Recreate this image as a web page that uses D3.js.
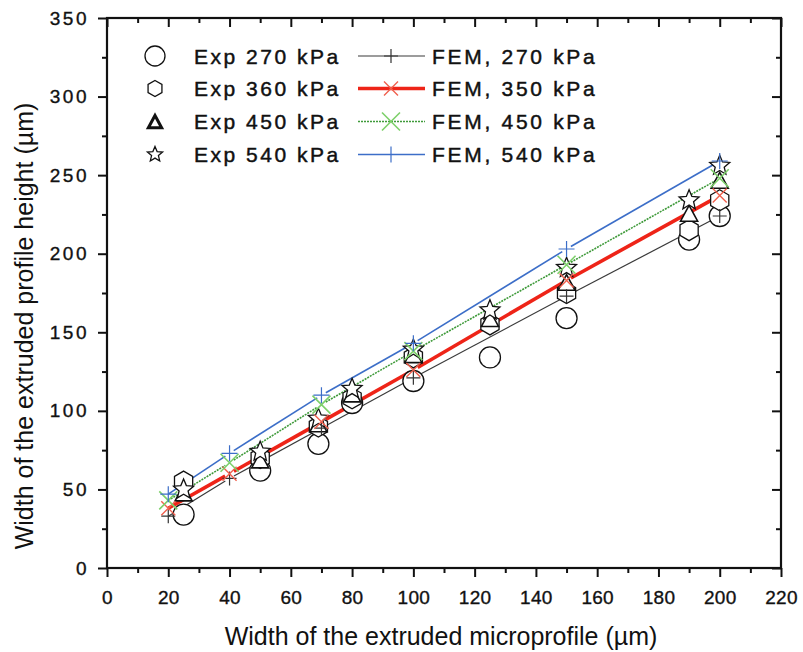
<!DOCTYPE html>
<html>
<head>
<meta charset="utf-8">
<script src="https://cdn.jsdelivr.net/npm/d3@7/dist/d3.min.js"></script>
<style>
  body { margin: 0; background: #fff; }
  svg { display: block; }
  text { font-family: "Liberation Sans", Arial, sans-serif; fill: #111; }
</style>
</head>
<body>
<svg id="chart" width="803" height="652"></svg>
<script>
// Measured widths (µm) and extruded profile heights (µm)
const expX   = [25, 50, 69, 80, 100, 125, 150, 190, 200];
const exp270 = [34, 62, 79, 105, 119, 134, 159, 209, 224];
const exp360 = [55, 70, 90, 108, 134, 155, 175, 215, 234];
const exp450 = [47, 68, 91, 110, 135, 158, 181, 225, 246];
const exp540 = [50, 74, 95, 114, 139, 164, 191, 234, 256];

// Simulated (FEM) results
const femX   = [20, 40, 70, 100, 150, 200];
const fem270 = [33, 57, 89, 121, 173, 224];
const fem350 = [38, 60, 93, 126, 183, 237];
const fem450 = [43, 67, 104, 138, 193, 248];
const fem540 = [47, 73, 110, 143, 203, 259];

const expLabels = ["Exp 270 kPa", "Exp 360 kPa", "Exp 450 kPa", "Exp 540 kPa"];
const femLabels = ["FEM, 270 kPa", "FEM, 350 kPa", "FEM, 450 kPa", "FEM, 540 kPa"];

const xMajor = d3.range(0, 221, 20);
const xMinor = d3.range(10, 220, 20);
const yMajor = d3.range(0, 351, 50);
const yMinor = d3.range(25, 350, 50);

const xTitle = "Width of the extruded microprofile (µm)";
const yTitle = "Width of the extruded profile height (µm)";

const svg = d3.select("#chart");
const L = 107, R = 781, T = 18, B = 568;
const x = d3.scaleLinear().domain([0, 220]).range([L, R]);
const y = d3.scaleLinear().domain([0, 350]).range([B, T]);

// ---- symbol shapes ----
function hexPath(r) {
  const pts = d3.range(6).map(i => {
    const a = -Math.PI / 2 + i * Math.PI / 3;
    return [r * Math.cos(a), r * Math.sin(a)];
  });
  return "M" + pts.map(p => p.join(",")).join("L") + "Z";
}
function triPath(r) {
  return `M0,${-r}L${r * 0.95},${r * 0.75}L${-r * 0.95},${r * 0.75}Z`;
}
function starPath(r) {
  const ri = r * 0.45;
  const pts = d3.range(10).map(i => {
    const a = -Math.PI / 2 + i * Math.PI / 5;
    const rr = i % 2 === 0 ? r : ri;
    return [rr * Math.cos(a), rr * Math.sin(a)];
  });
  return "M" + pts.map(p => p.map(v => v.toFixed(2)).join(",")).join("L") + "Z";
}
function plusPath(r) { return `M${-r},0H${r}M0,${-r}V${r}`; }
function crossPath(r) { return `M${-r},${-r}L${r},${r}M${-r},${r}L${r},${-r}`; }

const expSeries = [
  { vals: exp270, shape: "circle", size: 10.5, sw: 1.3 },
  { vals: exp360, shape: "hex", size: 10.5, sw: 1.3 },
  { vals: exp450, shape: "tri", size: 9, sw: 1.6 },
  { vals: exp540, shape: "star", size: 10.5, sw: 1.3 }
];
const femSeries = [
  { vals: fem270, color: "#3a3a3a", width: 1.2, mark: "plus", msize: 7, mcolor: "#333", mw: 1.2 },
  { vals: fem350, color: "#ee2418", width: 3.6, mark: "cross", msize: 7, mcolor: "#f0604e", mw: 1.4 },
  { vals: fem450, color: "#3f9a3a", width: 1.6, mark: "cross", msize: 9, mcolor: "#7dd06a", mw: 1.6, dash: "2,1" },
  { vals: fem540, color: "#3c6ec8", width: 1.6, mark: "plus", msize: 8, mcolor: "#3c6ec8", mw: 1.2 }
];

function drawSymbol(g, shape, r, sw, cx, cy) {
  let el;
  if (shape === "circle") el = g.append("circle").attr("r", r);
  else if (shape === "hex") el = g.append("path").attr("d", hexPath(r));
  else if (shape === "tri") el = g.append("path").attr("d", triPath(r));
  else el = g.append("path").attr("d", starPath(r));
  el.attr("transform", `translate(${cx},${cy})`)
    .attr("fill", "#fff").attr("stroke", "#111").attr("stroke-width", sw);
}

// ---- axes ----
const fmt = d3.format("d");
svg.append("g").attr("class", "xlab").attr("transform", `translate(0,${B})`)
  .call(d3.axisBottom(x).tickValues(xMajor).tickSize(9).tickSizeOuter(0).tickPadding(14).tickFormat(fmt));
svg.append("g").attr("transform", `translate(0,${B})`)
  .call(d3.axisBottom(x).tickValues(xMinor).tickSize(5).tickSizeOuter(0).tickFormat(""));
svg.append("g").attr("transform", `translate(0,${T})`)
  .call(d3.axisTop(x).tickValues(xMajor).tickSize(-9).tickSizeOuter(0).tickFormat(""));
svg.append("g").attr("transform", `translate(0,${T})`)
  .call(d3.axisTop(x).tickValues(xMinor).tickSize(-5).tickSizeOuter(0).tickFormat(""));

svg.append("g").attr("class", "ylab").attr("transform", `translate(${L},0)`)
  .call(d3.axisLeft(y).tickValues(yMajor).tickSize(9).tickSizeOuter(0).tickPadding(9).tickFormat(fmt));
svg.append("g").attr("transform", `translate(${L},0)`)
  .call(d3.axisLeft(y).tickValues(yMinor).tickSize(5).tickSizeOuter(0).tickFormat(""));
svg.append("g").attr("transform", `translate(${R},0)`)
  .call(d3.axisRight(y).tickValues(yMajor).tickSize(-9).tickSizeOuter(0).tickFormat(""));
svg.append("g").attr("transform", `translate(${R},0)`)
  .call(d3.axisRight(y).tickValues(yMinor).tickSize(-5).tickSizeOuter(0).tickFormat(""));

svg.selectAll(".domain").remove();
svg.selectAll(".tick line").attr("stroke", "#111").attr("stroke-width", 2);
svg.selectAll(".tick text").attr("font-size", 19).attr("fill", "#111")
  .attr("stroke", "#111").attr("stroke-width", 0.35)
  .style("font-family", "'Liberation Sans', Arial, sans-serif");
svg.selectAll(".xlab .tick text").attr("letter-spacing", 0.3);
svg.selectAll(".ylab .tick text").attr("letter-spacing", 2.5);

svg.append("rect").attr("x", L).attr("y", T).attr("width", R - L).attr("height", B - T)
  .attr("fill", "none").attr("stroke", "#111").attr("stroke-width", 2.2);

// ---- FEM lines (drawn with small gaps around each node) ----
const gap = 5;
femSeries.forEach(s => {
  const pts = femX.map((d, i) => [x(d), y(s.vals[i])]);
  const g = svg.append("g");
  for (let i = 0; i < pts.length - 1; i++) {
    const [x1, y1] = pts[i], [x2, y2] = pts[i + 1];
    const len = Math.hypot(x2 - x1, y2 - y1);
    const ux = (x2 - x1) / len, uy = (y2 - y1) / len;
    const g0 = i === 0 ? 0 : gap, g1 = i === pts.length - 2 ? 0 : gap;
    g.append("line")
      .attr("x1", x1 + ux * g0).attr("y1", y1 + uy * g0)
      .attr("x2", x2 - ux * g1).attr("y2", y2 - uy * g1)
      .attr("stroke", s.color).attr("stroke-width", s.width)
      .attr("stroke-dasharray", s.dash || null);
  }
});

// ---- experimental symbols ----
expSeries.forEach(s => {
  const g = svg.append("g");
  expX.forEach((d, i) => drawSymbol(g, s.shape, s.size, s.sw, x(d), y(s.vals[i])));
});

// ---- FEM node markers ----
femSeries.forEach(s => {
  const g = svg.append("g");
  femX.forEach((d, i) => {
    g.append("path")
      .attr("d", s.mark === "plus" ? plusPath(s.msize) : crossPath(s.msize))
      .attr("transform", `translate(${x(d)},${y(s.vals[i])})`)
      .attr("stroke", s.mcolor).attr("stroke-width", s.mw).attr("fill", "none");
  });
});

// ---- legend ----
const rowsY = [56, 88.5, 121.5, 154.5];
const leg = svg.append("g");
expSeries.forEach((s, i) => {
  const sizes = [10, 8, 7, 8];
  const widths = [1.3, 1.3, 3, 1.3];
  drawSymbol(leg, s.shape, sizes[i], widths[i], 155, rowsY[i] + (s.shape === "tri" ? 1 : 0));
  leg.append("text").attr("x", 194).attr("y", rowsY[i]).attr("dy", "0.36em")
    .attr("font-size", 21).attr("letter-spacing", 2.5)
    .attr("stroke", "#111").attr("stroke-width", 0.45).text(expLabels[i]);
});
femSeries.forEach((s, i) => {
  leg.append("line").attr("x1", 358).attr("x2", 425).attr("y1", rowsY[i]).attr("y2", rowsY[i])
    .attr("stroke", s.color).attr("stroke-width", s.width).attr("stroke-dasharray", s.dash || null);
  leg.append("path")
    .attr("d", s.mark === "plus" ? plusPath(s.msize) : crossPath(s.msize))
    .attr("transform", `translate(391,${rowsY[i]})`)
    .attr("stroke", s.mcolor).attr("stroke-width", s.mw).attr("fill", "none");
  leg.append("text").attr("x", 432).attr("y", rowsY[i]).attr("dy", "0.36em")
    .attr("font-size", 21).attr("letter-spacing", 2.7)
    .attr("stroke", "#111").attr("stroke-width", 0.45).text(femLabels[i]);
});

// ---- axis titles ----
svg.append("text").attr("x", 441).attr("y", 645)
  .attr("text-anchor", "middle").attr("font-size", 25).text(xTitle);
svg.append("text").attr("transform", `translate(33,326) rotate(-90)`)
  .attr("text-anchor", "middle").attr("font-size", 25).text(yTitle);
</script>
</body>
</html>
